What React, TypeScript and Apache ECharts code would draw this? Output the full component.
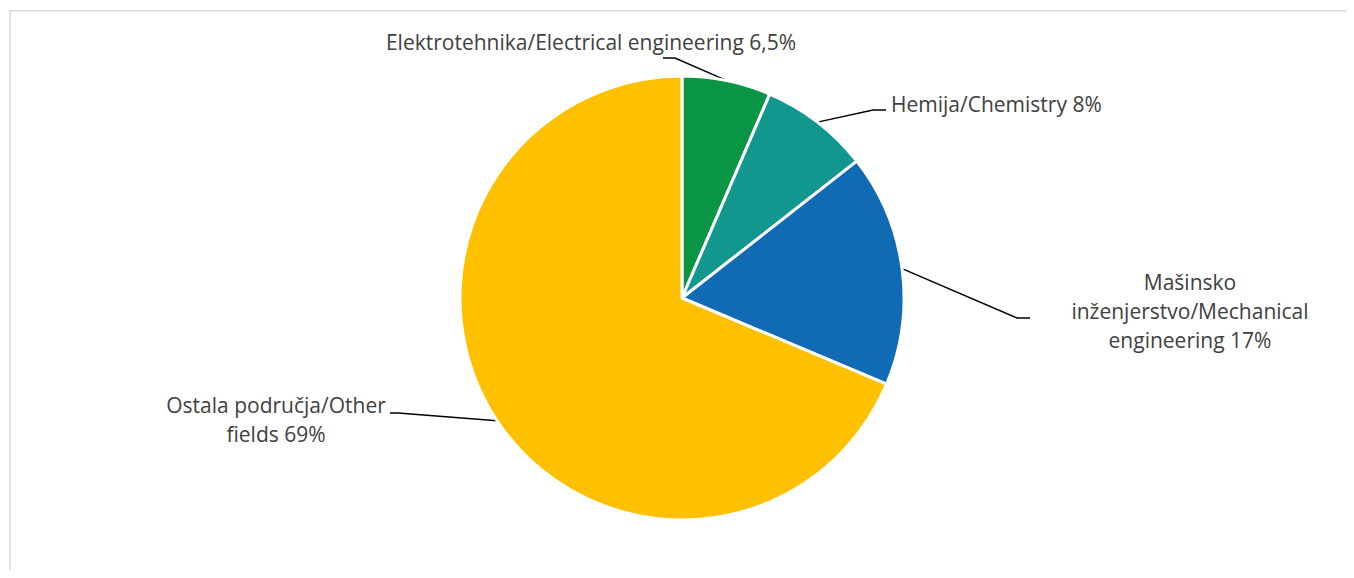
import React, { useEffect, useRef } from "react";
import * as echarts from "echarts";

// ---- data ----
const categories = [
  "Elektrotehnika/Electrical engineering",
  "Hemija/Chemistry",
  "Mašinsko\ninženjerstvo/Mechanical\nengineering",
  "Ostala područja/Other\nfields",
];
const shares = [6.5, 8, 17, 69];
const colors = ["#0A9445", "#12978F", "#116AB4", "#FFC000"];

// ---- label layout (chart pixel positions, not data) ----
const labelPlaces = [
  { x: 583, y: 34, align: "center", elbow: [667, 50], end: [655, 50] },
  { x: 883, y: 96, align: "left", elbow: [865, 102], end: [878, 102] },
  { x: 1182, y: 303, align: "center", elbow: [1009, 310], end: [1022, 310] },
  { x: 268, y: 411, align: "center", elbow: [390, 405], end: [382, 405] },
];

const CENTER = [674, 290];
const RADIUS = 222;

function fmt(v: number) {
  return String(v).replace(".", ",") + "%";
}

export default function App() {
  const ref = useRef<HTMLDivElement>(null);
  useEffect(() => {
    if (!ref.current) return;
    const chart = echarts.init(ref.current, null, { renderer: "svg" });
    const total = shares.reduce((a, b) => a + b, 0);
    const edgePoint = (i: number) => {
      let before = 0;
      for (let k = 0; k < i; k++) before += shares[k];
      const mid = ((before + shares[i] / 2) / total) * Math.PI * 2;
      return [CENTER[0] + RADIUS * Math.sin(mid), CENTER[1] - RADIUS * Math.cos(mid)];
    };
    chart.setOption({
      animation: false,
      backgroundColor: "#ffffff",
      graphic: [
        {
          type: "polyline",
          silent: true,
          shape: { points: [[2, 600], [2, 2.7], [1345, 2.7], [1345, 600]] },
          style: { stroke: "#d9d9d9", lineWidth: 1.5, fill: null },
        },
      ],
      series: [
        {
          type: "pie",
          center: CENTER,
          radius: RADIUS,
          startAngle: 90,
          clockwise: true,
          avoidLabelOverlap: false,
          data: categories.map((name, i) => ({
            name,
            value: shares[i],
            itemStyle: { color: colors[i] },
          })),
          itemStyle: { borderColor: "#ffffff", borderWidth: 3 },
          label: {
            show: true,
            position: "outside",
            formatter: (p: any) => `${p.name} ${fmt(p.value)}`,
            fontFamily: "Open Sans",
            fontSize: 21,
            lineHeight: 29,
            color: "#404040",
            align: "center",
          },
          labelLine: {
            show: true,
            length: 20,
            length2: 12,
            lineStyle: { color: "#000000", width: 1.5 },
          },
          labelLayout: (params: any) => {
            const i = params.dataIndex;
            const L = labelPlaces[i];
            const p0 =
              params.labelLinePoints && params.labelLinePoints[0]
                ? params.labelLinePoints[0]
                : edgePoint(i);
            return {
              x: L.x,
              y: L.y,
              align: L.align,
              verticalAlign: "middle",
              labelLinePoints: [p0, L.elbow, L.end],
            };
          },
          emphasis: { disabled: true },
        },
      ],
    });
    return () => chart.dispose();
  }, []);
  return <div ref={ref} style={{ width: 1346, height: 562 }} />;
}
